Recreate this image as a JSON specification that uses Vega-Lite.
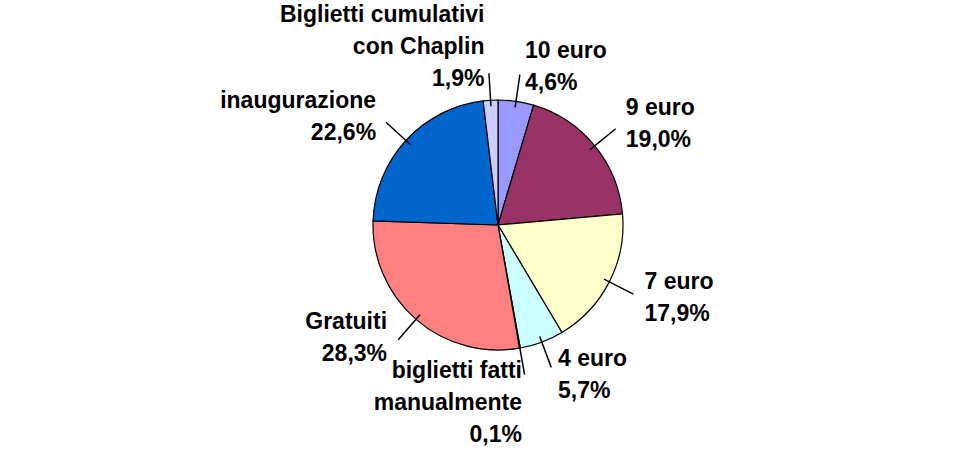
{
  "$schema": "https://vega.github.io/schema/vega-lite/v6.json",
  "width": 914,
  "height": 430,
  "autosize": {"type": "none"},
  "padding": {"left": 41, "top": 10, "right": 0, "bottom": 21},
  "background": "white",
  "view": {"stroke": null},
  "data": {
    "values": [
      {"order": 1, "label": "10 euro", "pct": 4.6, "text": "10 euro\n4,6%"},
      {"order": 2, "label": "9 euro", "pct": 19.0, "text": "9 euro\n19,0%"},
      {"order": 3, "label": "7 euro", "pct": 17.9, "text": "7 euro\n17,9%"},
      {"order": 4, "label": "4 euro", "pct": 5.7, "text": "4 euro\n5,7%"},
      {"order": 5, "label": "biglietti fatti manualmente", "pct": 0.1, "text": "biglietti fatti\nmanualmente\n0,1%"},
      {"order": 6, "label": "Gratuiti", "pct": 28.3, "text": "Gratuiti\n28,3%"},
      {"order": 7, "label": "inaugurazione", "pct": 22.6, "text": "inaugurazione\n22,6%"},
      {"order": 8, "label": "Biglietti cumulativi con Chaplin", "pct": 1.9, "text": "Biglietti cumulativi\ncon Chaplin\n1,9%"}
    ]
  },
  "transform": [
    {"window": [{"op": "sum", "field": "pct", "as": "cum"}], "sort": [{"field": "order"}], "frame": [null, 0]},
    {"calculate": "datum.cum - datum.pct / 2", "as": "mid"}
  ],
  "layer": [
    {
      "mark": {"type": "arc", "outerRadius": 125, "stroke": "black", "strokeWidth": 1.2},
      "encoding": {
        "theta": {"field": "pct", "type": "quantitative", "stack": true, "scale": {"domain": [0, 100.1]}},
        "order": {"field": "order", "type": "quantitative"},
        "color": {
          "field": "label",
          "type": "nominal",
          "legend": null,
          "scale": {
            "domain": ["10 euro", "9 euro", "7 euro", "4 euro", "biglietti fatti manualmente", "Gratuiti", "inaugurazione", "Biglietti cumulativi con Chaplin"],
            "range": ["#9999FF", "#993366", "#FFFFCC", "#CCFFFF", "#660066", "#FF8080", "#0066CC", "#CCCCFF"]
          }
        }
      }
    },
    {
      "mark": {"type": "arc", "radius": 152, "radius2": 119, "filled": false, "stroke": "black", "strokeWidth": 1.5},
      "encoding": {
        "theta": {"field": "mid", "type": "quantitative", "stack": null},
        "theta2": {"field": "mid"}
      }
    },
    {
      "transform": [{"filter": "datum.mid < 46"}],
      "mark": {"type": "text", "radius": 160, "align": "left", "baseline": "middle", "dx": 4, "dy": -16, "lineBreak": "\n", "lineHeight": 32, "font": "Liberation Sans", "fontWeight": "bold", "fontSize": 23, "color": "black"},
      "encoding": {
        "theta": {"field": "mid", "type": "quantitative", "stack": null},
        "text": {"field": "text"}
      }
    },
    {
      "transform": [{"filter": "datum.mid >= 46 && datum.mid < 50"}],
      "mark": {"type": "text", "radius": 160, "align": "right", "baseline": "middle", "dx": -4, "dy": -12, "lineBreak": "\n", "lineHeight": 32, "font": "Liberation Sans", "fontWeight": "bold", "fontSize": 23, "color": "black"},
      "encoding": {
        "theta": {"field": "mid", "type": "quantitative", "stack": null},
        "text": {"field": "text"}
      }
    },
    {
      "transform": [{"filter": "datum.mid >= 50 && datum.mid < 75"}],
      "mark": {"type": "text", "radius": 160, "align": "right", "baseline": "middle", "dx": -6, "dy": -24, "lineBreak": "\n", "lineHeight": 32, "font": "Liberation Sans", "fontWeight": "bold", "fontSize": 23, "color": "black"},
      "encoding": {
        "theta": {"field": "mid", "type": "quantitative", "stack": null},
        "text": {"field": "text"}
      }
    },
    {
      "transform": [{"filter": "datum.mid >= 75 && datum.mid < 95"}],
      "mark": {"type": "text", "radius": 160, "align": "right", "baseline": "middle", "dx": -4, "dy": -16, "lineBreak": "\n", "lineHeight": 32, "font": "Liberation Sans", "fontWeight": "bold", "fontSize": 23, "color": "black"},
      "encoding": {
        "theta": {"field": "mid", "type": "quantitative", "stack": null},
        "text": {"field": "text"}
      }
    },
    {
      "transform": [{"filter": "datum.mid >= 95"}],
      "mark": {"type": "text", "radius": 160, "align": "right", "baseline": "middle", "dx": -4, "dy": -50, "lineBreak": "\n", "lineHeight": 32, "font": "Liberation Sans", "fontWeight": "bold", "fontSize": 23, "color": "black"},
      "encoding": {
        "theta": {"field": "mid", "type": "quantitative", "stack": null},
        "text": {"field": "text"}
      }
    }
  ]
}
